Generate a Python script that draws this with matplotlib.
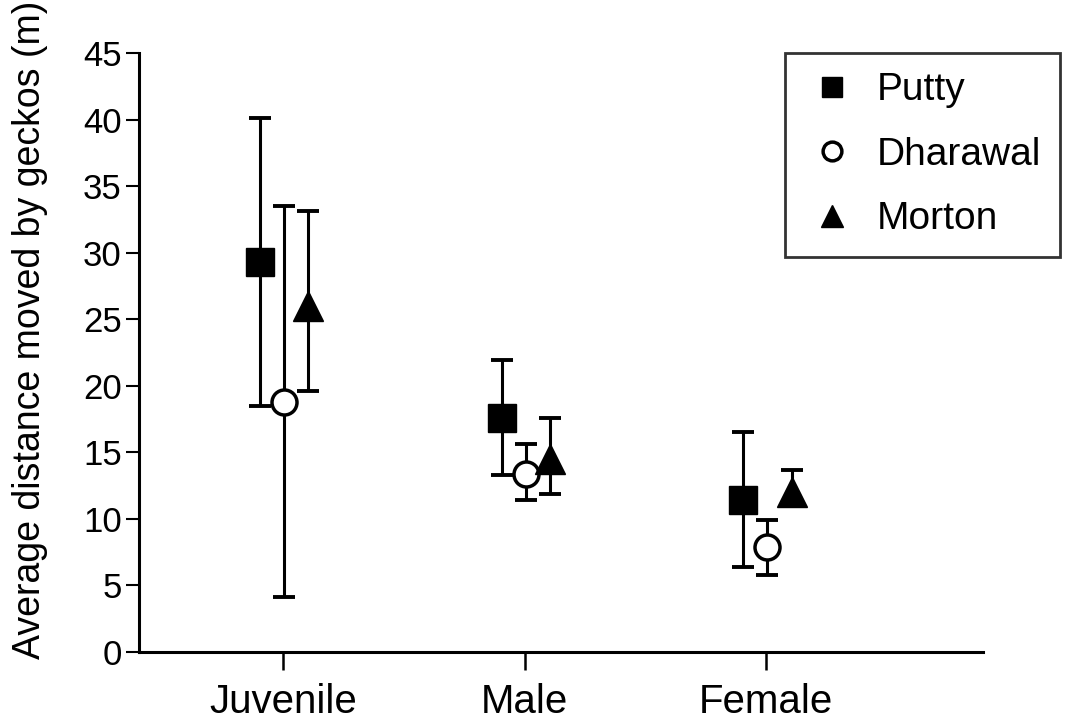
import numpy as np
import matplotlib.pyplot as plt

plt.rcParams['font.family'] = ['Liberation Sans', 'DejaVu Sans']

# Data
groups = ['Juvenile', 'Male', 'Female']
sites = ['Putty', 'Dharawal', 'Morton']

putty_mean = [29.3, 17.6, 11.4]
putty_hi = [40.1, 21.9, 16.5]
putty_lo = [18.5, 13.3, 6.4]

dharawal_mean = [18.8, 13.4, 7.9]
dharawal_hi = [33.5, 15.6, 9.9]
dharawal_lo = [4.1, 11.4, 5.8]

morton_mean = [26.0, 14.5, 12.0]
morton_hi = [33.1, 17.6, 13.7]
morton_lo = [19.6, 11.9, 11.1]

W, H = 1068, 724
fig = plt.figure(figsize=(W / 100, H / 100), dpi=100)
ax = fig.add_axes([139 / W, 1 - 652 / H, (983 - 139) / W, (652 - 53) / H])

x = np.arange(1, len(groups) + 1)
series = [
    (putty_mean, putty_lo, putty_hi, -0.095, dict(marker='s', ms=20, mfc='black', mec='black')),
    (dharawal_mean, dharawal_lo, dharawal_hi, 0.005, dict(marker='o', ms=18, mfc='white', mec='black', mew=2.5)),
    (morton_mean, morton_lo, morton_hi, 0.105, dict(marker='^', ms=21, mfc='black', mec='black')),
]

for (m, lo, hi, off, st), name in zip(series, sites):
    m = np.array(m)
    err = [m - np.array(lo), np.array(hi) - m]
    ax.errorbar(x + off, m, yerr=err, fmt='none', ecolor='black',
                elinewidth=2.2, capsize=8, capthick=2.8, zorder=2)
    ax.plot(x + off, m, linestyle='none', label=name, zorder=3, **st)

ax.set_xlim(0.405, 3.897)
ax.set_ylim(0, 45)
ax.set_yticks(np.arange(0, 46, 5))
ax.set_xticks(x)
ax.set_xticklabels(groups)

for s in ['top', 'right']:
    ax.spines[s].set_visible(False)
for s in ['left', 'bottom']:
    ax.spines[s].set_linewidth(2.2)

ax.tick_params(axis='y', direction='out', length=9.5, width=1.5, labelsize=25, pad=3)
ax.tick_params(axis='x', direction='out', length=13, width=1.8, labelsize=29, pad=9)

ax.set_ylabel('Average distance moved by geckos (m)', fontsize=27)
ax.yaxis.set_label_coords(-0.108, 0.5376)

leg = ax.legend(loc='upper left', bbox_to_anchor=(785 / W, 1 - 53 / H),
                bbox_transform=fig.transFigure, fontsize=28,
                frameon=True, fancybox=False, edgecolor='black',
                handlelength=1.4, handletextpad=0.45, labelspacing=0.73,
                borderpad=0.5, borderaxespad=0, markerscale=0.75)
leg.get_frame().set_linewidth(2)

fig.savefig('out.png', dpi=100)
